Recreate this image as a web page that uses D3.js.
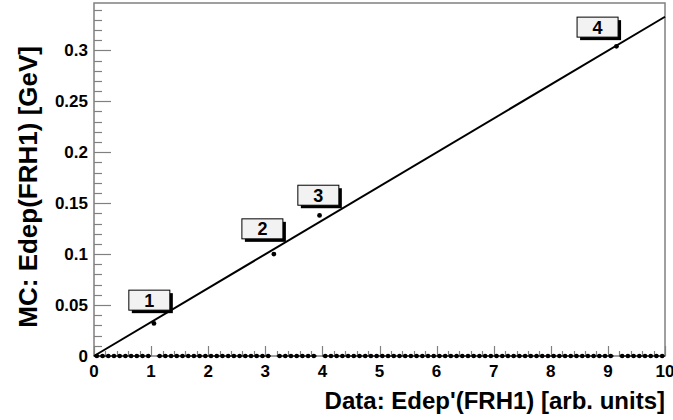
<!DOCTYPE html>
<html><head><meta charset="utf-8">
<script src="https://cdn.jsdelivr.net/npm/d3@7"></script>
<style>
body{margin:0;background:#fff;}
svg text{font-family:"Liberation Sans",Arial,sans-serif;font-weight:bold;}
</style></head>
<body><svg id="c" width="673" height="420"></svg>
<script>
// ---- data ----
const binLow = 0, binHigh = 10, nBins = 100;
const pointX = [1.05, 3.15, 3.95, 9.15];
const pointY = [0.032, 0.100, 0.138, 0.304];
const pointLabels = ["1", "2", "3", "4"];
const labelX = [0.61, 2.59, 3.57, 8.46];   // box left edge (data units)
const labelY = [0.045, 0.115, 0.148, 0.313]; // box bottom (data units)
const fitX = [0, 10];
const fitY = [0, 0.333];
const xTicks = [0,1,2,3,4,5,6,7,8,9,10];
const yTicks = [0,0.05,0.1,0.15,0.2,0.25,0.3];
const yTickLabels = ["0","0.05","0.1","0.15","0.2","0.25","0.3"];
const xTitle = "Data: Edep'(FRH1) [arb. units]";
const yTitle = "MC: Edep(FRH1) [GeV]";

const L = 94, R = 665, T = 3, B = 356;
const svg = d3.select("#c");
const x = d3.scaleLinear().domain([0, 10]).range([L, R]);
const y = d3.scaleLinear().domain([0, 0.3465]).range([B, T]);
const axCol = "#808080";

// frame
svg.append("rect").attr("x", L).attr("y", T).attr("width", R - L).attr("height", B - T)
  .attr("fill", "none").attr("stroke", axCol).attr("stroke-width", 1.5);

// y axis ticks
const yMinor = d3.range(0, 0.3465, 0.01);
svg.append("g").selectAll("line").data(yMinor).join("line")
  .attr("x1", L).attr("x2", (d, i) => i % 5 === 0 ? L + 17 : L + 8)
  .attr("y1", d => Math.round(y(d)) + 0.5).attr("y2", d => Math.round(y(d)) + 0.5)
  .attr("stroke", axCol).attr("stroke-width", 1.2);
svg.append("g").selectAll("text").data(yTicks).join("text")
  .attr("x", 88).attr("y", d => y(d) + 6).attr("text-anchor", "end")
  .attr("font-size", 17).text((d, i) => yTickLabels[i]);

// x axis ticks
const xMinor = d3.range(0, 10.001, 0.2);
svg.append("g").selectAll("line").data(xMinor).join("line")
  .attr("x1", d => Math.round(x(d)) + 0.5).attr("x2", d => Math.round(x(d)) + 0.5)
  .attr("y1", B).attr("y2", (d, i) => i % 5 === 0 ? B - 10 : B - 5)
  .attr("stroke", axCol).attr("stroke-width", 1.2);
svg.append("g").selectAll("text").data(xTicks).join("text")
  .attr("x", d => x(d)).attr("y", 377).attr("text-anchor", "middle")
  .attr("font-size", 17).text(d => d);

// histogram zero bins
const binW = (binHigh - binLow) / nBins;
const centers = d3.range(nBins).map(i => binLow + (i + 0.5) * binW);
const filled = new Set(pointX.map(v => Math.floor(v / binW)));
const zeros = centers.filter((c, i) => !filled.has(i));
const gz = svg.append("g");
gz.selectAll("line").data(zeros).join("line")
  .attr("x1", d => x(d - binW / 2)).attr("x2", d => x(d + binW / 2))
  .attr("y1", y(0)).attr("y2", y(0)).attr("stroke", "#000").attr("stroke-width", 1.2);
gz.selectAll("circle").data(zeros).join("circle")
  .attr("cx", d => x(d)).attr("cy", y(0)).attr("r", 2.3).attr("fill", "#000");

// fit line
svg.append("path").datum(fitX.map((v, i) => [v, fitY[i]]))
  .attr("d", d3.line().x(d => x(d[0])).y(d => y(d[1])))
  .attr("stroke", "#000").attr("stroke-width", 2).attr("fill", "none");

// points
svg.append("g").selectAll("circle").data(pointX).join("circle")
  .attr("cx", d => x(d)).attr("cy", (d, i) => y(pointY[i])).attr("r", 2.4).attr("fill", "#000");

// label boxes
const bw = 41, bh = 20, sh = 3;
const gl = svg.append("g");
pointLabels.forEach((t, i) => {
  const bx = x(labelX[i]), by = y(labelY[i]) - bh;
  gl.append("rect").attr("x", bx + sh).attr("y", by + sh).attr("width", bw).attr("height", bh).attr("fill", "#000");
  gl.append("rect").attr("x", bx).attr("y", by).attr("width", bw).attr("height", bh)
    .attr("fill", "#f2f2f2").attr("stroke", "#000").attr("stroke-width", 1);
  gl.append("text").attr("x", bx + bw / 2).attr("y", by + bh / 2 + 6.5).attr("text-anchor", "middle")
    .attr("font-size", 18).text(t);
});

// titles
svg.append("text").attr("x", R).attr("y", 409).attr("text-anchor", "end")
  .attr("font-size", 24).text(xTitle);
svg.append("text").attr("transform", "translate(37,46) rotate(-90)").attr("text-anchor", "end")
  .attr("font-size", 26).text(yTitle);
</script></body></html>
